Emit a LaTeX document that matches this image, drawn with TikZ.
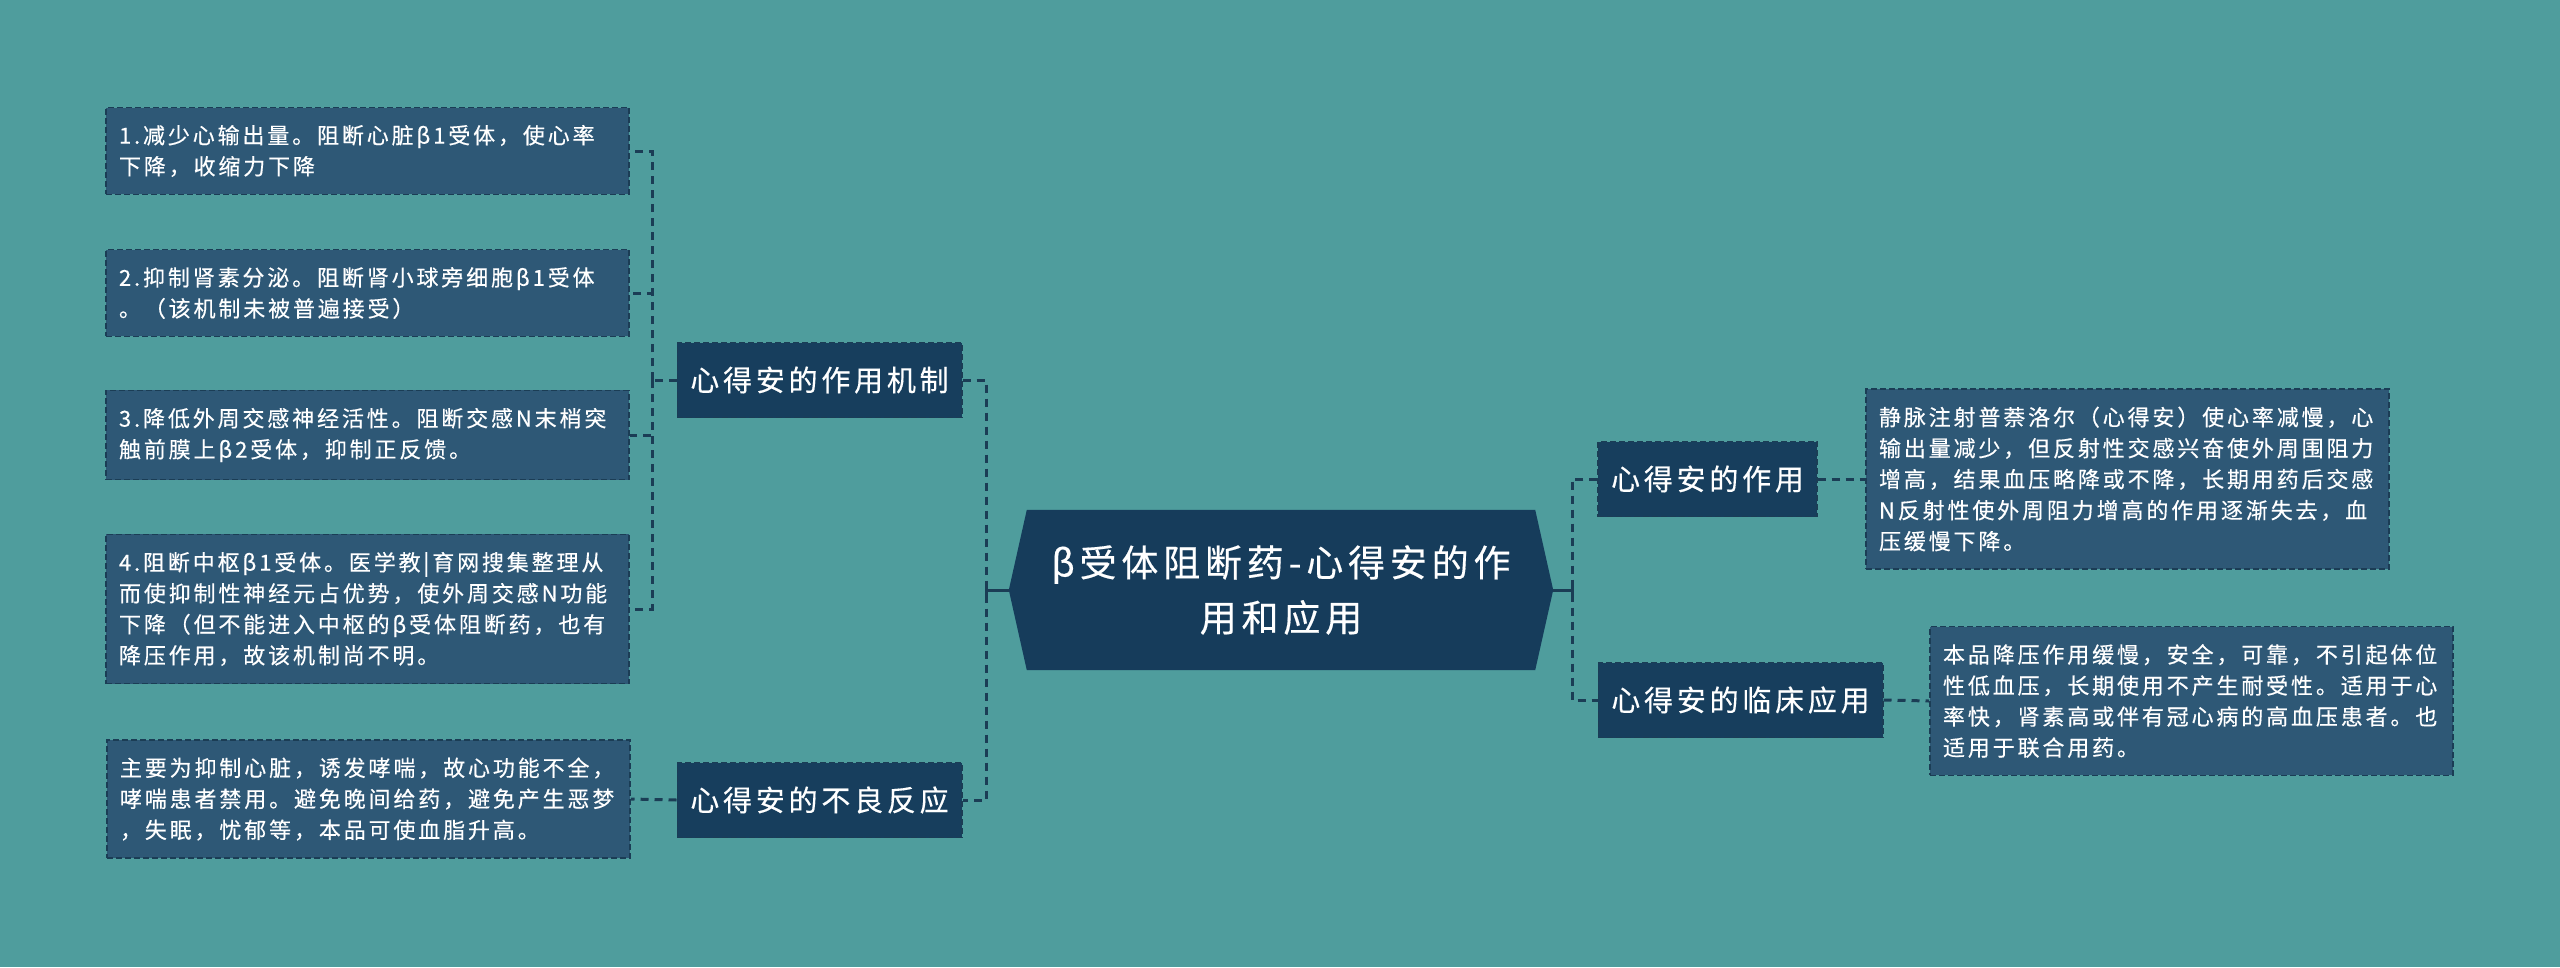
\documentclass[tikz,border=0pt]{standalone}
\usepackage{fontspec}
\setmainfont{Noto Sans CJK SC}
\newfontfamily\spacedfont[LetterSpace=13,FakeBold=0.4]{Noto Sans CJK SC}
\usetikzlibrary{positioning}
\pgfdeclarelayer{background}
\pgfsetlayers{background,main}

\definecolor{bgteal}{HTML}{4F9D9D}
\definecolor{leaffill}{HTML}{2E5876}
\definecolor{subfill}{HTML}{173E5D}
\definecolor{rootfill}{HTML}{163C5B}
\definecolor{linkcol}{HTML}{1B3D55}

\tikzset{
  leaf/.style={draw=linkcol, dash pattern=on 6pt off 3pt, line width=1.6pt,
    fill=leaffill, text=white, text width=497pt, align=left,
    inner xsep=13pt, inner ysep=17.5pt,
    font=\spacedfont\fontsize{22}{31}\selectfont},
  sub/.style={draw=linkcol, dash pattern=on 6pt off 3pt, line width=1.6pt,
    fill=subfill, text=white, minimum height=75pt, inner xsep=13pt,
    font=\spacedfont\fontsize{29}{34}\selectfont},
  rootnode/.style={minimum width=508pt, minimum height=160pt,
    text width=480pt, align=center, text=white,
    font=\spacedfont\fontsize{37}{55}\selectfont},
  link/.style={draw=linkcol, line width=3pt, dash pattern=on 8pt off 6pt},
  stem/.style={draw=linkcol, line width=3pt},
}

\begin{document}
\begin{tikzpicture}[x=1pt, y=-1pt]

\begin{pgfonlayer}{background}
\fill[bgteal] (0,0) rectangle (2560,967);
\end{pgfonlayer}

\node[rootnode] (root) at (1281,590) {β受体阻断药-心得安的作\\用和应用};
\coordinate (rootL) at ([xshift=-18pt]root.west);
\coordinate (rootR) at ([xshift=18pt]root.east);
\begin{pgfonlayer}{background}
\fill[rootfill] (root.north west) -- (root.north east) -- (rootR)
  -- (root.south east) -- (root.south west) -- (rootL) -- cycle;
\end{pgfonlayer}

\node[sub] (mech) at (819.5,380) {心得安的作用机制};
\node[sub] (adverse) at (819.5,800) {心得安的不良反应};
\node[sub] (effect) at (1707.5,479) {心得安的作用};
\node[sub] (clinical) at (1740.5,700) {心得安的临床应用};

\node[leaf] (leaf1) at (367.5,151) {1.减少心输出量。阻断心脏β1受体，使心率\\下降，收缩力下降};
\node[leaf] (leaf2) at (367.5,293) {2.抑制肾素分泌。阻断肾小球旁细胞β1受体\\。（该机制未被普遍接受）};
\node[leaf] (leaf3) at (367.5,435) {3.降低外周交感神经活性。阻断交感N末梢突\\触前膜上β2受体，抑制正反馈。};
\node[leaf] (leaf4) at (367.5,609) {4.阻断中枢β1受体。医学教|育网搜集整理从\\而使抑制性神经元占优势，使外周交感N功能\\下降（但不能进入中枢的β受体阻断药，也有\\降压作用，故该机制尚不明。};
\node[leaf] (leaf5) at (368.5,799) {主要为抑制心脏，诱发哮喘，故心功能不全，\\哮喘患者禁用。避免晚间给药，避免产生恶梦\\，失眠，忧郁等，本品可使血脂升高。};
\node[leaf] (rleaf1) at (2127.5,479) {静脉注射普萘洛尔（心得安）使心率减慢，心\\输出量减少，但反射性交感兴奋使外周围阻力\\增高，结果血压略降或不降，长期用药后交感\\N反射性使外周阻力增高的作用逐渐失去，血\\压缓慢下降。};
\node[leaf] (rleaf2) at (2191.5,701) {本品降压作用缓慢，安全，可靠，不引起体位\\性低血压，长期使用不产生耐受性。适用于心\\率快，肾素高或伴有冠心病的高血压患者。也\\适用于联合用药。};

\coordinate (trunkL) at (986,590);
\coordinate (trunkR) at (1572,590);
\coordinate (mechJ) at (652,380);

\draw[stem] (rootL) -- (trunkL);
\draw[stem] ([yshift=9pt]trunkL) -- ([yshift=-9pt]trunkL);
\draw[stem] (rootR) -- (trunkR);
\draw[stem] ([yshift=9pt]trunkR) -- ([yshift=-9pt]trunkR);
\draw[link] (mech.east) -| (trunkL) |- (adverse.east);
\draw[link] (effect.west) -| (trunkR) |- (clinical.west);

\draw[link] (mech.west) -- (mechJ);
\foreach \i in {1,...,4}
  \draw[link] (mechJ) |- (leaf\i.east);
\draw[link] (adverse.west) -- (leaf5.east);
\draw[link] (effect.east) -- (rleaf1.west);
\draw[link] (clinical.east) -- (rleaf2.west);

\end{tikzpicture}
\end{document}
